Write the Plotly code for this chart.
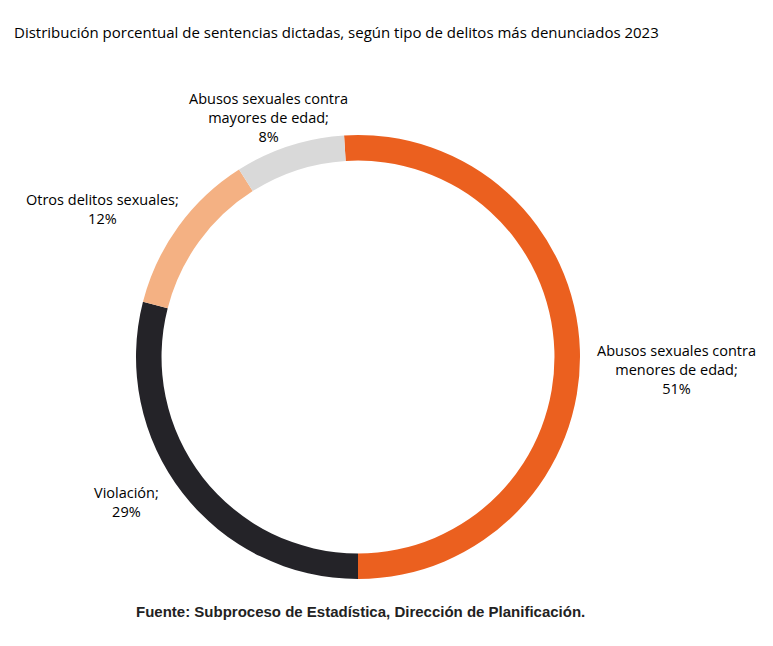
import plotly.graph_objects as go

categories = ["Abusos sexuales contra menores de edad", "Violación", "Otros delitos sexuales", "Abusos sexuales contra mayores de edad"]
values = [51, 29, 12, 8]
colors = ["#EB601F", "#242328", "#F4B183", "#D9D9D9"]
label_texts = ["Abusos sexuales contra<br>menores de edad;<br>51%", "Violación;<br>29%",
               "Otros delitos sexuales;<br>12%", "Abusos sexuales contra<br>mayores de edad;<br>8%"]
label_pos = [(676, 369), (126, 502), (102, 209), (268, 118)]

W, H = 773, 646
off = 8
cx, cy, r = 358 - off, 357 - off, 222

fig = go.Figure(go.Pie(
    labels=categories, values=values, sort=False, direction="clockwise",
    rotation=-3.6, hole=0.885, textinfo="none", hoverinfo="label+percent",
    marker=dict(colors=colors, line=dict(width=0)),
    domain=dict(x=[(cx - r) / W, (cx + r) / W], y=[1 - (cy + r) / H, 1 - (cy - r) / H]),
    showlegend=False))

for t, (x, y) in zip(label_texts, label_pos):
    fig.add_annotation(x=(x - off) / W, y=1 - (y - off) / H, xref="paper", yref="paper", text=t,
                       showarrow=False, xanchor="center", yanchor="middle",
                       font=dict(family="Open Sans", size=14.5, color="#000"), align="center")

fig.add_annotation(x=(12 - off) / W, y=1 - (20 - off) / H, xref="paper", yref="paper", xanchor="left",
                   text="Distribución porcentual de sentencias dictadas, según tipo de delitos más denunciados 2023",
                   showarrow=False, font=dict(family="Open Sans", size=15, color="#000"))
fig.add_annotation(x=(360 - off) / W, y=1 - (622 - off) / H, xref="paper", yref="paper", xanchor="center",
                   text="<b>Fuente: Subproceso de Estadística, Dirección de Planificación.</b>",
                   showarrow=False, font=dict(family="Liberation Sans", size=15, color="#222"))

fig.update_layout(width=W, height=H, margin=dict(l=0, r=0, t=0, b=0),
                  paper_bgcolor="white", plot_bgcolor="white")
fig.write_html("out.html")
